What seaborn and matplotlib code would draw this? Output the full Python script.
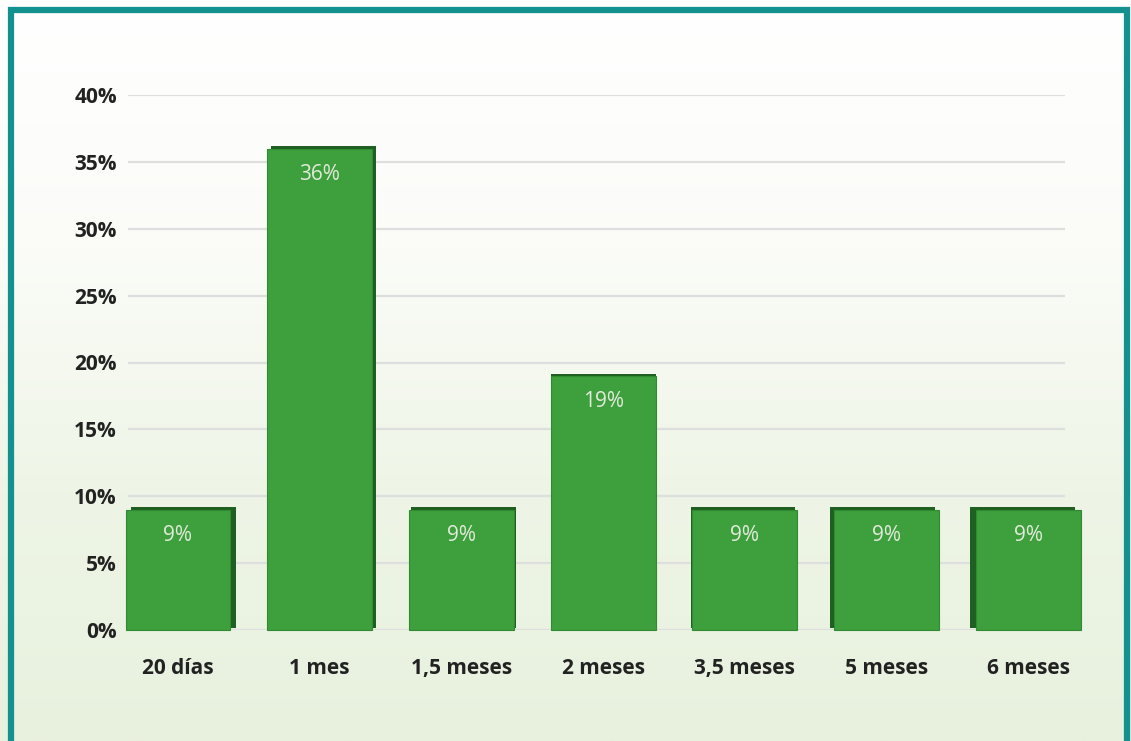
import numpy as np
import pandas as pd
import matplotlib
matplotlib.use("Agg")
import matplotlib.pyplot as plt
import matplotlib.patheffects as pe
from matplotlib.patches import Rectangle
import seaborn as sns

# Time until first result and share of cases
periods = ["20 días", "1 mes", "1,5 meses", "2 meses", "3,5 meses", "5 meses", "6 meses"]
shares = [9, 36, 9, 19, 9, 9, 9]
y_ticks = [0, 5, 10, 15, 20, 25, 30, 35, 40]

df = pd.DataFrame({"periodo": periods, "porcentaje": shares})

sns.set_theme(style="white")
plt.rcParams["font.family"] = ["Open Sans", "DejaVu Sans"]

W, H = 1131, 741
fig = plt.figure(figsize=(W / 100, H / 100), dpi=100)

# Soft vertical gradient background: white on top, pale green at the bottom
bg = fig.add_axes([0, 0, 1, 1], zorder=-10)
grad = np.linspace(0, 1, 256).reshape(-1, 1)
cmap = matplotlib.colors.LinearSegmentedColormap.from_list(
    "bgfade", ["#ffffff", "#fbfcf8", "#eef5e6", "#e8f1de"])
bg.imshow(grad, aspect="auto", cmap=cmap, extent=[0, 1, 0, 1], origin="upper")
bg.set_axis_off()

# Teal frame
fig.patches.append(Rectangle((11 / W, -0.05), (1127 - 11) / W, 1.05 - 10 / H,
                             transform=fig.transFigure, fill=False,
                             edgecolor="#12918f", linewidth=4.5, zorder=5))

# Plot area
x0, x1 = 128, 1065
y_top, y_bot = 95, 630
ax = fig.add_axes([x0 / W, (H - y_bot) / H, (x1 - x0) / W, (y_bot - y_top) / H])
ax.patch.set_alpha(0)

sns.barplot(data=df, x="periodo", y="porcentaje", color="#3e9f3d",
            width=0.74, saturation=1, ax=ax, zorder=3)

step = 141.7
ax.set_xlim(-(178 - x0) / step, (x1 - 178) / step)
ax.set_ylim(0, 40)

# Dark side faces give the bars some depth
n = len(periods)
for i, bar in enumerate(ax.patches):
    bar.set_clip_on(False)
    bar.set_edgecolor("#2f8a30")
    bar.set_linewidth(0.8)
    dx = (n // 2 - i) * 1.3
    bar.set_path_effects([
        pe.SimplePatchShadow(offset=(dx, 1.6), shadow_rgbFace="#1f5f22", alpha=1),
        pe.Normal(),
    ])

ax.bar_label(ax.containers[0], labels=[f"{v}%" for v in shares], padding=-26,
             color="#e2eadb", fontsize=15)

ax.set_yticks(y_ticks)
ax.set_yticklabels([f"{t}%" for t in y_ticks])
ax.yaxis.grid(True, color="#dedede", linewidth=1.6, zorder=0)
ax.xaxis.grid(False)
ax.set_axisbelow(True)
for s in ax.spines.values():
    s.set_visible(False)

ax.tick_params(axis="y", length=0, pad=8, labelsize=15, labelcolor="#222222")
ax.tick_params(axis="x", length=0, pad=20, labelsize=15, labelcolor="#222222")
for lab in ax.get_xticklabels() + ax.get_yticklabels():
    lab.set_fontweight("bold")

ax.set_xlabel("")
ax.set_ylabel("")

fig.savefig("out.png", dpi=100)
